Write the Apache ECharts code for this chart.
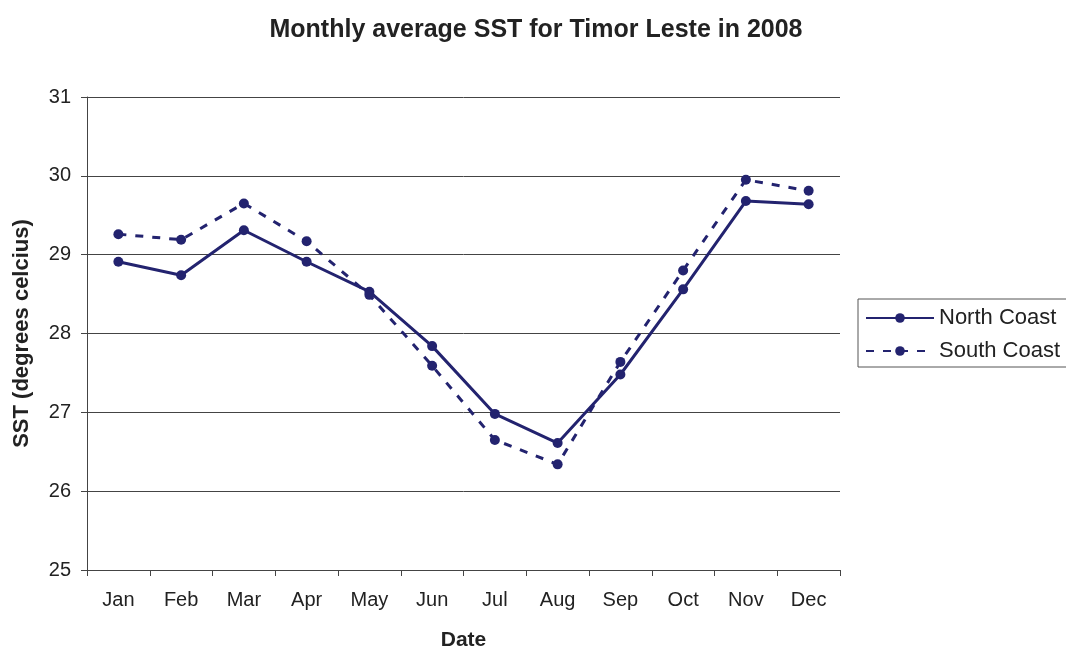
<!DOCTYPE html>
<html>
<head>
<meta charset="utf-8">
<script src="https://cdn.jsdelivr.net/npm/echarts@6/dist/echarts.min.js"></script>
<style>
  html, body { margin: 0; padding: 0; background: #fff; }
  #chart { width: 1066px; height: 651px; }
</style>
</head>
<body>
<div id="chart"></div>
<script>
const months = ["Jan", "Feb", "Mar", "Apr", "May", "Jun", "Jul", "Aug", "Sep", "Oct", "Nov", "Dec"];
const northCoast = [28.91, 28.74, 29.31, 28.91, 28.53, 27.84, 26.98, 26.61, 27.48, 28.56, 29.68, 29.64];
const southCoast = [29.26, 29.19, 29.65, 29.17, 28.49, 27.59, 26.65, 26.34, 27.64, 28.80, 29.95, 29.81];

const navy = "#23236f";
const font = "Liberation Sans, Arial, sans-serif";

let myChart = echarts.init(document.getElementById("chart"));

myChart.setOption({
  animation: false,
  textStyle: { fontFamily: font },
  title: {
    text: "Monthly average SST for Timor Leste in 2008",
    left: 531,
    textAlign: "center",
    top: 13,
    textStyle: { fontSize: 25, fontWeight: "bold", color: "#222", fontFamily: font }
  },
  legend: {
    orient: "vertical",
    left: 858,
    top: 299,
    width: 230,
    padding: [8, 40, 5, 7],
    itemGap: 11,
    itemWidth: 68,
    itemHeight: 12,
    borderColor: "#555",
    borderWidth: 1,
    textStyle: { fontSize: 22, color: "#222", fontFamily: font },
    data: ["North Coast", "South Coast"]
  },
  grid: {
    left: 87,
    right: 226,
    top: 97,
    bottom: 81,
    containLabel: false,
    outerBoundsMode: "none"
  },
  xAxis: {
    type: "category",
    data: months,
    boundaryGap: true,
    name: "Date",
    nameLocation: "middle",
    nameGap: 60,
    nameTextStyle: { fontSize: 21, fontWeight: "bold", color: "#222" },
    axisLine: { lineStyle: { color: "#444", width: 1 } },
    axisTick: { show: true, length: 6, inside: false, alignWithLabel: false, lineStyle: { color: "#444" } },
    axisLabel: { fontSize: 20, color: "#222", margin: 20 }
  },
  yAxis: {
    type: "value",
    min: 25,
    max: 31,
    interval: 1,
    name: "SST (degrees celcius)",
    nameLocation: "middle",
    nameGap: 54,
    nameTextStyle: { fontSize: 22, fontWeight: "bold", color: "#222" },
    axisLine: { show: true, lineStyle: { color: "#444", width: 1 } },
    axisTick: { show: true, length: 6, lineStyle: { color: "#444" } },
    axisLabel: { fontSize: 20, color: "#222", margin: 16 },
    splitLine: { lineStyle: { color: "#444", width: 1 } }
  },
  series: [
    {
      name: "North Coast",
      type: "line",
      data: northCoast,
      symbol: "circle",
      symbolSize: 10,
      color: navy,
      lineStyle: { color: navy, width: 3 },
      itemStyle: { color: navy }
    },
    {
      name: "South Coast",
      type: "line",
      data: southCoast,
      symbol: "circle",
      symbolSize: 10,
      color: navy,
      lineStyle: { color: navy, width: 3, type: [8, 9] },
      itemStyle: { color: navy }
    }
  ]
});
</script>
</body>
</html>
